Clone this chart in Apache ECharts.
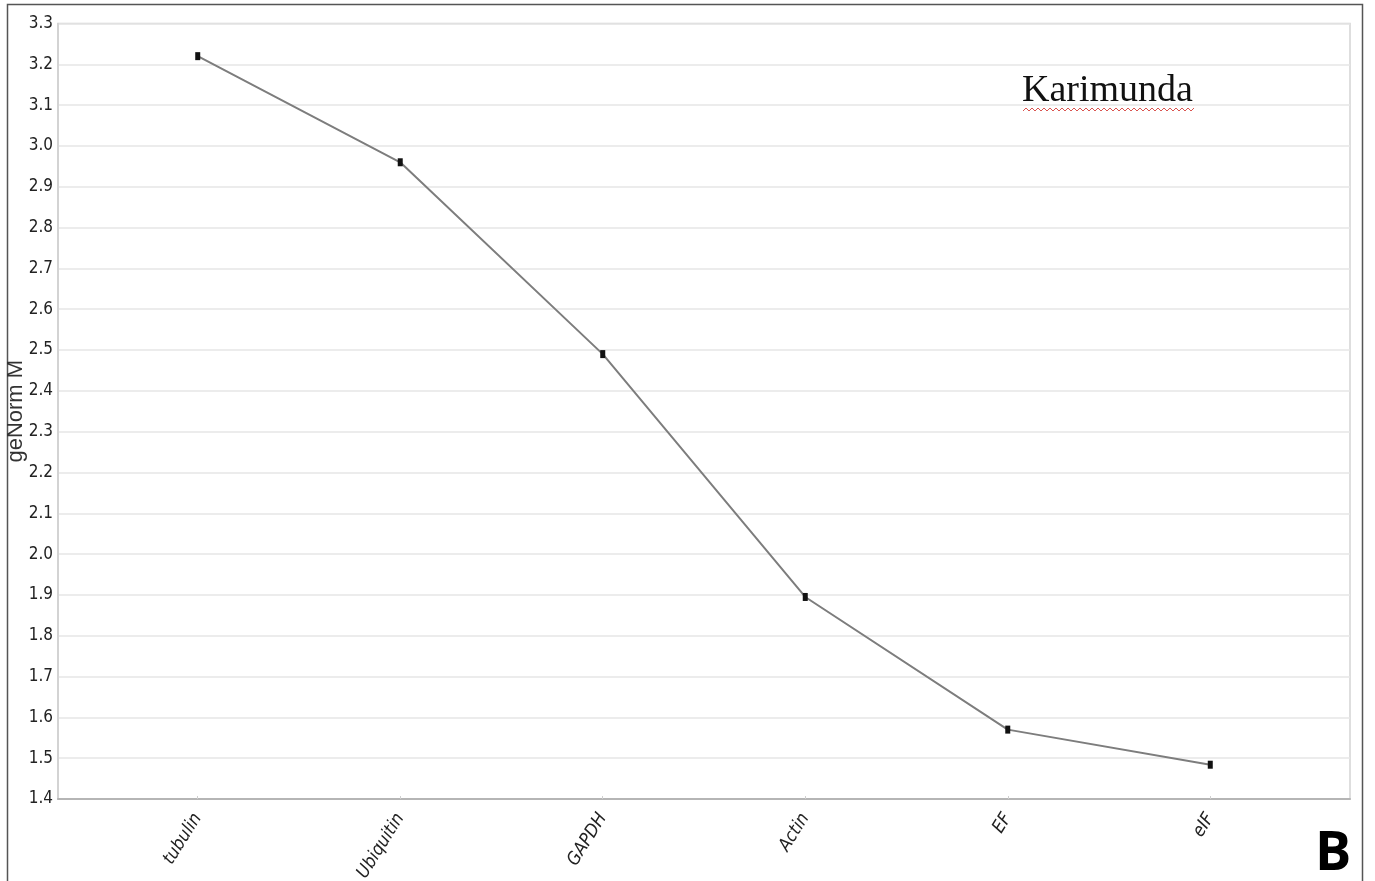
<!DOCTYPE html>
<html>
<head>
<meta charset="utf-8">
<title>geNorm M – Karimunda</title>
<script src="https://cdn.jsdelivr.net/npm/echarts@6/dist/echarts.min.js"></script>
<style>
  html, body { margin: 0; padding: 0; background: #fff; }
  #chart { width: 1375px; height: 881px; }
</style>
</head>
<body>
<div id="chart"></div>
<script>
// Reference genes, ordered from least to most stable
const genes = ['tubulin', 'Ubiquitin', 'GAPDH', 'Actin', 'EF', 'eIF'];
// Average expression stability (geNorm M) for each gene
const mValues = [3.22, 2.96, 2.49, 1.895, 1.57, 1.484];
// Y-axis range and step
const yMin = 1.4, yMax = 3.3, yStep = 0.1;

const chart = echarts.init(document.getElementById('chart'));

const positions = genes.map((_, i) => i);
const lineData = mValues.map((v, i) => [i, v]);

// zigzag underline under the cultivar name
const wave = [];
for (let x = 1023, k = 0; x <= 1195; x += 3, k++) {
  wave.push([x, k % 2 ? 108 : 111]);
}

const narrowFont = '"Liberation Sans Narrow", "Arial Narrow", "DejaVu Sans Condensed", "Liberation Sans", Arial, sans-serif';

chart.setOption({
  animation: false,
  backgroundColor: '#fff',
  grid: {
    left: 58, right: 25, top: 23.5, bottom: 82,
    outerBoundsMode: 'none',
    containLabel: false,
    show: true, borderColor: '#d4d4d4', borderWidth: 1.5
  },
  xAxis: {
    type: 'value',
    min: -0.69, max: 5.69,
    splitLine: { show: false },
    axisLine: { show: true, onZero: false, lineStyle: { color: '#b5b5b5', width: 2 } },
    axisTick: { show: true, customValues: positions, length: 3, inside: true, lineStyle: { color: '#cfcfcf' } },
    axisLabel: {
      customValues: positions,
      formatter: v => genes[Math.round(v)],
      rotate: 58,
      margin: 16,
      fontStyle: 'italic',
      fontSize: 18,
      fontFamily: narrowFont,
      color: '#222'
    }
  },
  yAxis: {
    type: 'value',
    min: yMin, max: yMax, interval: yStep,
    name: 'geNorm M',
    nameLocation: 'middle',
    nameGap: 31,
    nameMoveOverlap: false,
    nameTextStyle: { fontSize: 22, color: '#333', fontFamily: '"Liberation Sans", Arial, sans-serif' },
    axisLine: { show: true, onZero: false, lineStyle: { color: '#cfcfcf', width: 1.5 } },
    axisTick: { show: false },
    axisLabel: {
      margin: 5,
      fontSize: 17,
      fontFamily: narrowFont,
      color: '#222',
      formatter: v => v.toFixed(1)
    },
    splitLine: { show: true, lineStyle: { color: '#e6e6e6', width: 1.5 } }
  },
  series: [{
    type: 'line',
    data: lineData,
    symbol: 'rect',
    symbolSize: [5, 8],
    itemStyle: { color: '#111' },
    lineStyle: { color: '#7d7d7d', width: 2 },
    z: 3
  }],
  graphic: [
    {
      type: 'rect',
      shape: { x: 7.5, y: 4.5, width: 1355, height: 900 },
      style: { fill: 'none', stroke: '#555', lineWidth: 1.5 },
      silent: true
    },
    {
      type: 'text',
      left: 1022, top: 72,
      style: { text: 'Karimunda', font: '38px "Liberation Serif", "Times New Roman", serif', fill: '#111' }
    },
    {
      type: 'polyline',
      shape: { points: wave },
      style: { stroke: '#d9534f', lineWidth: 1, fill: 'none' }
    },
    {
      type: 'text',
      left: 1315, top: 828,
      style: { text: 'B', font: 'bold 54px "Open Sans", "Liberation Sans", Arial, sans-serif', fill: '#000' }
    }
  ]
});
</script>
</body>
</html>
